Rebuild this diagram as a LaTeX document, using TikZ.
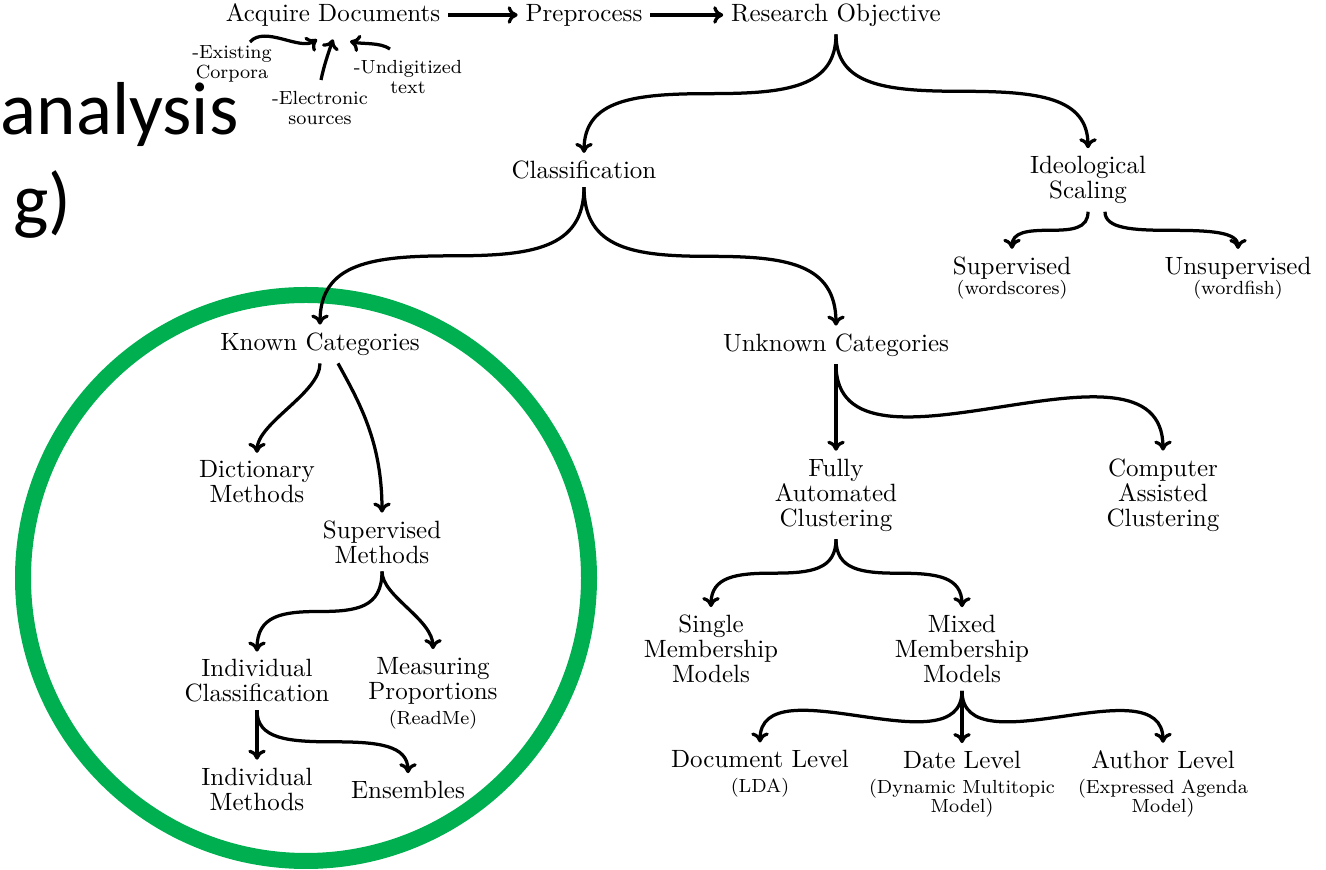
\documentclass[tikz,border=0pt]{standalone}
\usepackage{fontspec}
\newfontfamily\slidefont{Carlito}
\usetikzlibrary{calc,arrows.meta}
\definecolor{slidegreen}{HTML}{00B050}
\newcommand\subline[1]{{\fontsize{7.6}{9}\selectfont #1}}
\tikzset{
  lab/.style={align=center,inner sep=3pt,font=\fontsize{10}{10}\selectfont},
  note/.style={align=center,inner sep=1pt,font=\fontsize{7.6}{8}\selectfont},
  arr/.style={line width=1.3pt,-{Computer Modern Rightarrow[length=4pt,width=7pt]}},
  fork/.style={to path={let \p1=(\tikztostart), \p2=(\tikztotarget), \p3=($(\p1)!.5!(\p2)$) in
    .. controls (\x1,{\y1+(\y3-\y1)*0.9}) and ({\x3+(\x1-\x3)*0.6},\y3) .. (\p3)
    .. controls ({\x3+(\x2-\x3)*0.6},\y3) and (\x2,{\y2+(\y3-\y2)*0.9}) .. (\p2) \tikztonodes}}
}
\begin{document}
\begin{tikzpicture}[x=0.4pt,y=-0.4pt]
  \clip (0,0) rectangle (1326,870);
  \draw[slidegreen,line width=6.4pt] (306,578) circle (283);
  % slide title, cut at the left
  \node[anchor=base east,inner sep=0,font=\slidefont\fontsize{30}{36}\selectfont] (ttl1) at (239,135) {analysis};
  \node[anchor=base east,inner sep=0,font=\slidefont\fontsize{30}{36}\selectfont] (ttl2) at (72,226) {g)};
  % top row
  \node[lab] (acq) at (333,15) {Acquire Documents};
  \node[lab] (pre) at (584,15) {Preprocess};
  \node[lab] (ro) at (836,15) {Research Objective};
  \node[note] (ex) at (232,64) {-Existing\\Corpora};
  \node[note] (el) at (320,108) {-Electronic\\sources};
  \node[note] (un) at (408,77) {-Undigitized\\text};
  % tree
  \node[lab] (cl) at (584,170) {Classification};
  \node[lab] (id) at (1088,180) {Ideological\\Scaling};
  \node[lab] (sup) at (1012,278) {Supervised\\[-2pt]\subline{(wordscores)}};
  \node[lab] (uns) at (1238,278) {Unsupervised\\[-2pt]\subline{(wordfish)}};
  \node[lab] (kc) at (320,344) {Known Categories};
  \node[lab] (uc) at (836,345) {Unknown Categories};
  \node[lab] (dm) at (257,482) {Dictionary\\Methods};
  \node[lab] (sm) at (382,542) {Supervised\\Methods};
  \node[lab] (fa) at (836,495) {Fully\\Automated\\Clustering};
  \node[lab] (ca) at (1163,495) {Computer\\Assisted\\Clustering};
  \node[lab] (smm) at (711,649) {Single\\Membership\\Models};
  \node[lab] (mmm) at (962,649) {Mixed\\Membership\\Models};
  \node[lab] (ic) at (257,681) {Individual\\Classification};
  \node[lab] (mp) at (433,693) {Measuring\\Proportions\\\subline{(ReadMe)}};
  \node[lab] (im) at (257,789) {Individual\\Methods};
  \node[lab] (en) at (408,790) {Ensembles};
  \node[lab] (dl) at (760,774) {Document Level\\\subline{(LDA)}};
  \node[lab] (dt) at (962,784) {Date Level\\\subline{(Dynamic Multitopic}\\[-2.5pt]\subline{Model)}};
  \node[lab] (al) at (1163,784) {Author Level\\\subline{(Expressed Agenda}\\[-2.5pt]\subline{Model)}};
  % connectors
  \draw[arr] (acq.east) -- (pre.west);
  \draw[arr] (pre.east) -- (ro.west);
  \draw[arr] ($(ex)+(18,-22)$) .. controls +(15,-17) and +(-17,12) .. ($(acq.south)+(-16,5)$);
  \draw[arr] ($(el)+(1,-28)$) .. controls +(3,-15) and +(-4,12) .. ($(acq.south)+(0,5)$);
  \draw[arr] ($(un)+(-18,-28)$) .. controls +(-10,-7) and +(12,3) .. ($(acq.south)+(17,7)$);
  \draw[arr] (ro.south) to[fork] (cl.north);
  \draw[arr] (ro.south) to[fork] (id.north);
  \draw[arr] (cl.south) to[fork] (kc.north);
  \draw[arr] (cl.south) to[fork] (uc.north);
  \draw[arr] (id.south) to[fork] (sup.north);
  \draw[arr] ($(id.south)+(17,0)$) to[fork] (uns.north);
  \draw[arr] (kc.south) .. controls +(0,30) and +(0,-30) .. (dm.north);
  \draw[arr] ($(kc.south)+(18,0)$) .. controls +(22,40) and +(0,-70) .. (sm.north);
  \draw[arr] (uc.south) -- (fa.north);
  \draw[arr] (uc.south) .. controls +(0,135) and +(0,-135) .. (ca.north);
  \draw[arr] (fa.south) to[fork] (smm.north);
  \draw[arr] (fa.south) to[fork] (mmm.north);
  \draw[arr] (sm.south) to[fork] (ic.north);
  \draw[arr] (sm.south) .. controls +(0,25) and +(0,-30) .. (mp.north);
  \draw[arr] (ic.south) -- (im.north);
  \draw[arr] (ic.south) to[fork] (en.north);
  \draw[arr] (mmm.south) .. controls +(0,79) and +(0,-79) .. (dl.north);
  \draw[arr] (mmm.south) -- (dt.north);
  \draw[arr] (mmm.south) .. controls +(0,79) and +(0,-79) .. (al.north);
\end{tikzpicture}
\end{document}
